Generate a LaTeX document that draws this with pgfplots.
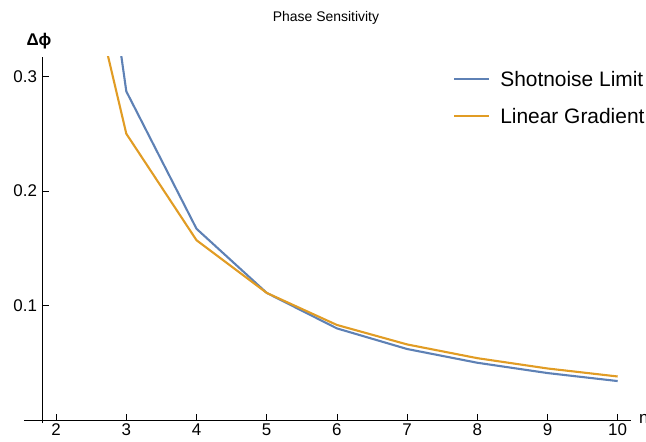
\documentclass[border=0pt]{standalone}
\usepackage{pgfplots}
\pgfplotsset{compat=1.18}
\usepackage{fontspec}
\setmainfont{Liberation Sans}
\definecolor{cShot}{HTML}{5E81B5}
\definecolor{cLin}{HTML}{E19C24}
\begin{document}
\begin{tikzpicture}
\useasboundingbox (0,0) rectangle (646bp,442bp);
\begin{axis}[
  at={(42.5bp,22bp)}, anchor=south west,
  scale only axis,
  width=588.5bp, height=363bp,
  xmin=1.806, xmax=10.19,
  ymin=0, ymax=0.317,
  axis x line*=bottom, axis y line*=left,
  x axis line style={shorten <=-18.5bp, line width=0.7bp},
  y axis line style={shorten <=-3bp, line width=0.7bp},
  tick align=inside,
  major tick length=6bp,
  tick style={black, line width=0.7bp},
  xtick={2,3,...,10},
  ytick={0.1,0.2,0.3},
  /pgf/number format/assume math mode=true,
  tick label style={font=\fontsize{17}{17}\selectfont},
  yticklabel style={/pgf/number format/fixed, /pgf/number format/precision=1, xshift=-2bp},
  legend cell align=left,
  legend style={
    at={(410.5bp,349bp)}, anchor=north west,
    draw=none, fill=none, inner sep=0pt,
    font=\fontsize{21}{21}\selectfont,
    nodes={text height=15bp, text depth=5bp, inner sep=0pt},
    row sep=17bp, column sep=10bp,
  },
  legend image code/.code={\draw[#1] (0bp,2.5bp) -- (35bp,2.5bp);},
]
% Shotnoise limit
\addplot[color=cShot, line width=2.1bp] coordinates {
  (2,0.72)(3,0.287)(4,0.167)(5,0.111)(6,0.080)(7,0.062)(8,0.050)(9,0.041)(10,0.034)
};
\addlegendentry{Shotnoise Limit}
% linear gradient
\addplot[color=cLin, line width=2.1bp] coordinates {
  (2,0.51)(3,0.250)(4,0.157)(5,0.111)(6,0.083)(7,0.066)(8,0.054)(9,0.045)(10,0.038)
};
\addlegendentry{Linear Gradient}
\end{axis}
\node[font=\fontsize{14}{14}\selectfont] at (326bp,424bp) {Phase Sensitivity};
\node[font=\bfseries\fontsize{17}{17}\selectfont] at (39bp,401bp) {Δϕ};
\node[font=\fontsize{17}{17}\selectfont, anchor=west, inner sep=0pt] at (639bp,23bp) {n};
\end{tikzpicture}
\end{document}
